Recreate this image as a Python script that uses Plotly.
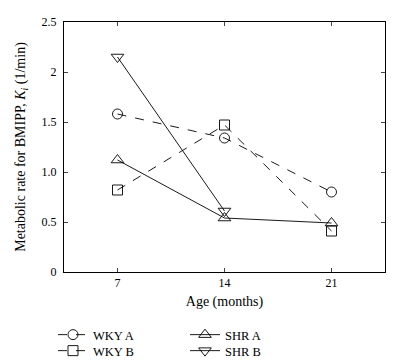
import plotly.graph_objects as go

ages = [7, 14, 21]
wky_a = [1.58, 1.34, 0.80]
wky_b = [0.82, 1.47, 0.41]
shr_a = [1.12, 0.54, 0.49]
shr_b = [2.15, 0.61]
y_tickvals = [0, 0.5, 1.0, 1.5, 2, 2.5]
y_ticktext = ["0", "0.5", "1.0", "1.5", "2", "2.5"]

series = [
    ("WKY A", wky_a, "dash", "circle-open", "legend"),
    ("SHR A", shr_a, "solid", "triangle-up-open", "legend"),
    ("WKY B", wky_b, "dash", "square-open", "legend2"),
    ("SHR B", shr_b, "solid", "triangle-down-open", "legend2"),
]

fig = go.Figure()
for name, vals, dash, sym, leg in series:
    fig.add_trace(go.Scatter(
        x=ages[:len(vals)], y=vals, name=name, mode="lines+markers",
        legend=leg,
        line=dict(color="black", width=0.9, dash=dash),
        marker=dict(symbol=sym, size=11 if "triangle" in sym else 10,
                    color="black", line=dict(width=0.9, color="black")),
    ))

# page body has an 8px margin, so the figure is 8px smaller on each side
W, H = 398, 356
font = "Liberation Serif"
leg_common = dict(orientation="h", xref="container", yref="container",
                  xanchor="left", yanchor="middle",
                  entrywidth=87, entrywidthmode="pixels",
                  font=dict(size=12.5), bgcolor="rgba(0,0,0,0)", itemwidth=30)
fig.update_layout(
    width=W, height=H,
    margin=dict(l=56, r=21, t=14, b=92, autoexpand=False),
    plot_bgcolor="white", paper_bgcolor="white",
    font=dict(family=font, size=12, color="black"),
    showlegend=True,
    legend=dict(x=45 / W, y=1 - 327 / H, **leg_common),
    legend2=dict(x=45 / W, y=1 - 343 / H, **leg_common),
)
fig.update_xaxes(
    range=[3.5, 24.5], tickvals=ages, ticks="inside", ticklen=4,
    showline=True, linecolor="black", linewidth=1, mirror="ticks",
    showgrid=False, zeroline=False, automargin=False,
    title=dict(text="Age (months)", standoff=6),
)
fig.update_yaxes(
    range=[0, 2.5], tickvals=y_tickvals, ticktext=y_ticktext,
    ticks="inside", ticklen=4, ticklabelstandoff=4,
    showline=True, linecolor="black", linewidth=1, mirror="ticks",
    showgrid=False, zeroline=False, automargin=False,
    title=dict(text="Metabolic rate for BMIPP, <i>K</i><sub><i>i</i></sub> (1/min)", standoff=12),
)
fig.write_html("out.html")
